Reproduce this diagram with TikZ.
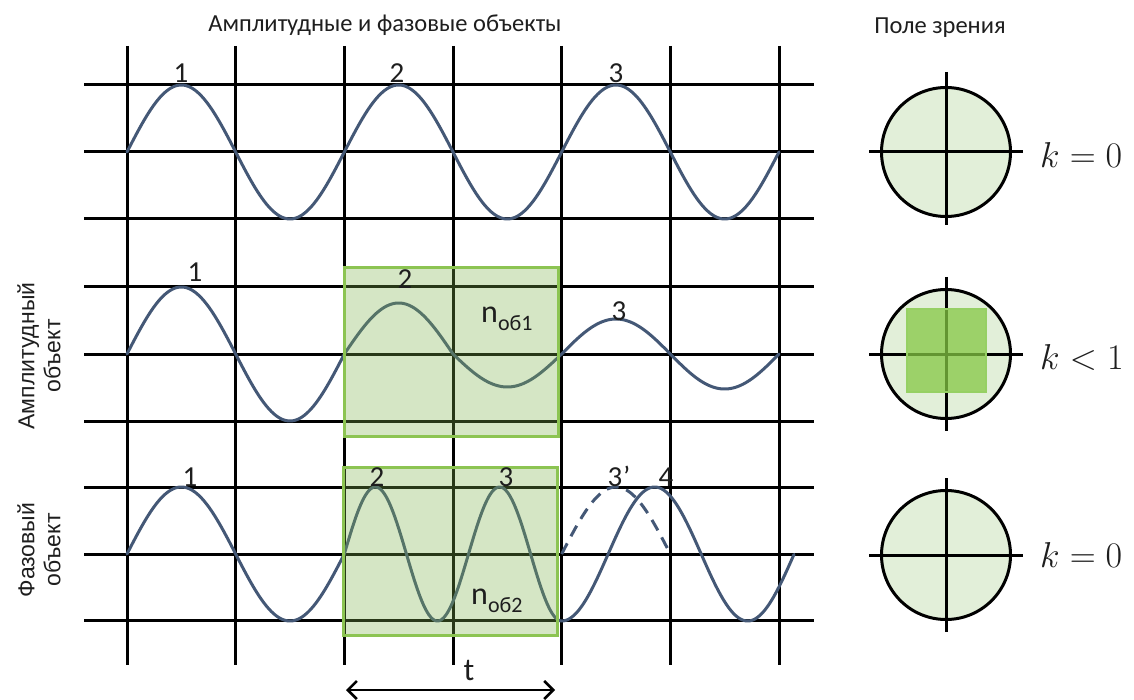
\RequirePackage{fix-cm}
\documentclass[tikz,border=0pt]{standalone}
\usepackage{fontspec}
\setmainfont{Carlito}
\newfontfamily\arialf{Liberation Sans}
\usetikzlibrary{arrows.meta}
\definecolor{wavec}{RGB}{68,88,118}
\definecolor{boxfill}{RGB}{125,177,75}
\definecolor{boxline}{RGB}{140,196,82}
\definecolor{circfill}{RGB}{226,239,217}
\definecolor{sqfill}{RGB}{133,200,68}
\definecolor{sqline}{RGB}{150,208,100}
\definecolor{txt}{RGB}{30,30,30}
\begin{document}
\begin{tikzpicture}[x=1pt,y=-1pt,
  gridline/.style={line width=3pt, black},
  wave/.style={line width=3pt, wavec, line join=round, line cap=round},
  dwave/.style={wave, line cap=butt, dash pattern=on 12pt off 8pt},
  greenbox/.style={fill=boxfill, fill opacity=0.32, draw=boxline, draw opacity=1, line width=3pt},
  num/.style={anchor=base, text=txt, font=\fontsize{29}{32}\selectfont, inner sep=0pt},
  nlab/.style={anchor=base west, text=txt, font=\fontsize{32}{36}\selectfont, inner sep=0pt},
  title/.style={text=txt, font=\fontsize{24.5}{28}\selectfont},
  side/.style={rotate=90, align=center, text=txt, font=\arialf\fontsize{23}{26}\selectfont},
  field/.style={circle, draw=black, fill=circfill, line width=3pt, minimum size=129pt, inner sep=0pt},
  cross/.style={line width=3pt, black},
  klab/.style={anchor=west, text=txt, font=\fontsize{36}{40}\selectfont, inner sep=0pt}
]
\useasboundingbox (0,0) rectangle (1134,700);

% grid
\foreach \x in {127,235.67,344.33,453,561.67,670.33,779} {
  \draw[gridline] (\x,46) -- (\x,665);
}
\foreach \y in {85,152,219,287,354,421,487.5,554,620.5} {
  \draw[gridline] (84,\y) -- (814,\y);
}

% top wave
\draw[wave] plot[domain=127:779, samples=300] (\x, {152-67*sin(1.6565*(\x-127))});

% middle wave
\draw[wave] plot[domain=127:344.33, samples=120] (\x, {354-67*sin(1.6565*(\x-127))})
  -- plot[domain=344.33:453, samples=60] (\x, {354-51*sin(1.6565*(\x-344.33))})
  -- plot[domain=453:561.67, samples=60] (\x, {354-33*sin(1.6565*(\x-344.33))})
  -- plot[domain=561.67:779, samples=120] (\x, {354-35*sin(1.6565*(\x-561.67))});

% bottom wave
\draw[wave] plot[domain=127:344.33, samples=120] (\x, {554-67*sin(1.6565*(\x-127))})
  -- plot[domain=344.33:561.67, samples=150] (\x, {554-67*sin(2.8988*(\x-344.33))})
  -- plot[domain=561.67:794, samples=150] (\x, {554+67*cos(1.9355*(\x-561.67))});
\draw[dwave] plot[domain=561.67:668, samples=80] (\x, {554-67*sin(1.6565*(\x-561.67))});

% green boxes
\draw[greenbox] (344,268) rectangle (558,436);
\draw[greenbox] (343,467) rectangle (557,635);

% labels
\node[title] (ttl) at (385,25) {Амплитудные и фазовые объекты};
\node[title] (fov) at (940,28) {Поле зрения};
\node[side] (amp) at (39,356) {Амплитудный\\объект};
\node[side] (pha) at (39,550) {Фазовый\\объект};

\node[num] (a1) at (181,83) {1};
\node[num] (a2) at (397,83) {2};
\node[num] (a3) at (616,83) {3};
\node[num] (b1) at (195,282) {1};
\node[num] (b2) at (405,289) {2};
\node[num] (b3) at (619,320) {3};
\node[num] (c1) at (190,486) {1};
\node[num] (c2) at (377,486) {2};
\node[num] (c3) at (506,486) {3};
\node[num] (c3p) at (619,486) {3\kern1pt’};
\node[num] (c4) at (666,486) {4};

\node[nlab] (n1) at (481,323) {n{\fontsize{22}{24}\selectfont\raisebox{-8pt}{об1}}};
\node[nlab] (n2) at (471,604) {n{\fontsize{22}{24}\selectfont\raisebox{-8pt}{об2}}};

% t arrow
\coordinate (ta) at (346,690);
\coordinate (tb) at (555,690);
\draw[line width=2.6pt, {Straight Barb[length=9pt,width=18pt]}-{Straight Barb[length=9pt,width=18pt]}] (ta) -- (tb);
\node[text=txt, font=\fontsize{32}{36}\selectfont, anchor=base, inner sep=0pt] (tl) at (469,680) {t};

% fields of view
\node[field] (f1) at (946,152) {};
\draw[cross] ([xshift=-77pt]f1.center) -- ([xshift=77pt]f1.center);
\draw[cross] ([yshift=80pt]f1.center) -- ([yshift=-73pt]f1.center);
\node[klab] (k1) at (1040,155) {$k=0$};

\node[field] (f2) at (946,354) {};
\draw[cross] ([xshift=-77pt]f2.center) -- ([xshift=77pt]f2.center);
\draw[cross] ([yshift=77pt]f2.center) -- ([yshift=-77pt]f2.center);
\draw[fill=sqfill, fill opacity=0.75, draw=sqline, draw opacity=1, line width=1.5pt] (907,309) rectangle (986,392);
\node[klab] (k2) at (1040,357) {$k<1$};

\node[field] (f3) at (946,555) {};
\draw[cross] ([xshift=-77pt]f3.center) -- ([xshift=77pt]f3.center);
\draw[cross] ([yshift=77pt]f3.center) -- ([yshift=-77pt]f3.center);
\node[klab] (k3) at (1040,555) {$k=0$};
\end{tikzpicture}
\end{document}
